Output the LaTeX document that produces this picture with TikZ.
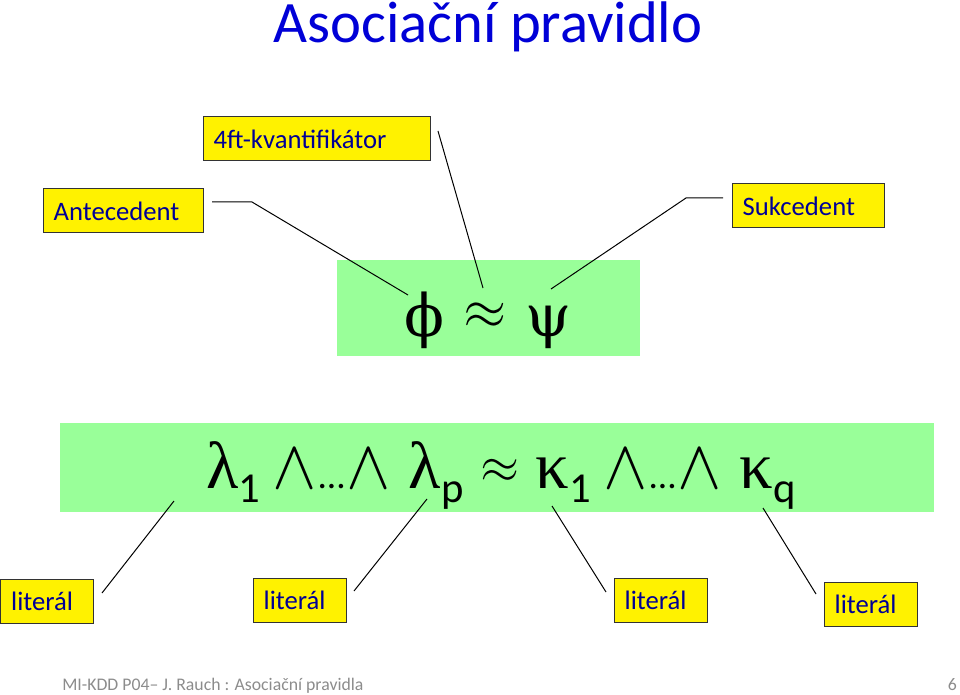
\documentclass[tikz,border=0pt]{standalone}
\usepackage{fontspec}
\setmainfont{Carlito}
\newfontfamily\grk{DejaVu Serif}
\newfontfamily\grkb{Liberation Serif}
\newfontfamily\lmm{Latin Modern Math}
\definecolor{titleblue}{RGB}{0,0,215}
\definecolor{boxtext}{RGB}{0,0,150}
\definecolor{bandgreen}{RGB}{153,255,153}
\definecolor{footgray}{RGB}{140,140,140}
\newcommand\idx[1]{\raisebox{-10.5pt}{\rmfamily\fontsize{32}{32}\selectfont #1}}
\newcommand\et{{\lmm\fontsize{52}{52}\selectfont ∧}}
\newcommand\apx[2]{{\lmm\fontsize{#1}{#1}\selectfont\raisebox{#2}{≈}}}
\newcommand\dd{{\rmfamily\fontsize{28}{28}\selectfont ...}}

\tikzset{
  lbl/.style={draw=black!80, line width=0.75pt, fill=yellow, text=boxtext,
    font=\fontsize{20}{24}\selectfont, inner xsep=8pt, inner ysep=0pt,
    minimum height=33pt, text height=14pt, text depth=0pt, align=left,
    anchor=north west, outer sep=0pt},
  band/.style={fill=bandgreen, inner sep=0pt, outer sep=0pt, anchor=north west},
  ptr/.style={line width=0.75pt}
}

\begin{document}
\begin{tikzpicture}[x=0.75pt,y=-0.75pt]
\useasboundingbox (0,0) rectangle (960,695);
\node[anchor=base, text=titleblue, font=\fontsize{44}{48}\selectfont] (title) at (488,43) {Asociační pravidlo};

% green bands with the rules
\node[band, minimum width=227.25pt, minimum height=72pt] (rule) at (337,260) {};
\node[band, minimum width=655.5pt, minimum height=66.75pt] (conj) at (60,423) {};
\node[anchor=base, font=\grk\fontsize{44}{44}\selectfont] (phipsi) at (488,336) {ϕ \apx{42}{6pt} ψ};
\node[anchor=base, font=\grkb\fontsize{50}{50}\selectfont] (lits) at (501,488)
  {λ\idx{1}\,\et\dd\et\ λ\idx{p} \apx{38}{4pt} κ\idx{1}\,\et\dd\et\ κ\idx{q}};

% labels
\node[lbl, text width=154.25pt] (quant) at (203,117) {4ft-kvantifikátor};
\node[lbl, text width=104pt] (ante) at (43,189) {Antecedent};
\node[lbl, text width=98pt] (succ) at (732,184) {Sukcedent};
\node[lbl, text width=53.75pt] (lit1) at (0.5,579) {literál};
\node[lbl, text width=53.75pt] (lit2) at (253,578) {literál};
\node[lbl, text width=53.75pt] (lit3) at (614,578) {literál};
\node[lbl, text width=53.75pt] (lit4) at (824,582) {literál};

% pointer ends
\coordinate (ante-s) at (212,202); \coordinate (ante-k) at (252,202); \coordinate (ante-e) at (408,295);
\coordinate (quant-s) at (438,131); \coordinate (quant-e) at (483,288);
\coordinate (succ-s) at (723,198); \coordinate (succ-k) at (686,198); \coordinate (succ-e) at (551,289);
\coordinate (lit1-s) at (102,593); \coordinate (lit1-e) at (174,501);
\coordinate (lit2-s) at (354,591); \coordinate (lit2-e) at (427,499);
\coordinate (lit3-s) at (606,592); \coordinate (lit3-e) at (552,506);
\coordinate (lit4-s) at (816,594); \coordinate (lit4-e) at (763,508);

\draw[ptr] (ante-s) -- (ante-k) -- (ante-e);
\draw[ptr] (quant-s) -- (quant-e);
\draw[ptr] (succ-s) -- (succ-k) -- (succ-e);
\foreach \n in {lit1,lit2,lit3,lit4}
  \draw[ptr] (\n-s) -- (\n-e);

% footer
\node[anchor=base west, inner sep=0pt, text=footgray, font=\fontsize{13.3}{15}\selectfont] (foot) at (62,690) {MI-KDD P04– J. Rauch : Asociační pravidla};
\node[anchor=base east, inner sep=0pt, text=footgray, font=\fontsize{13.3}{15}\selectfont] (page) at (957,690) {6};
\end{tikzpicture}
\end{document}
